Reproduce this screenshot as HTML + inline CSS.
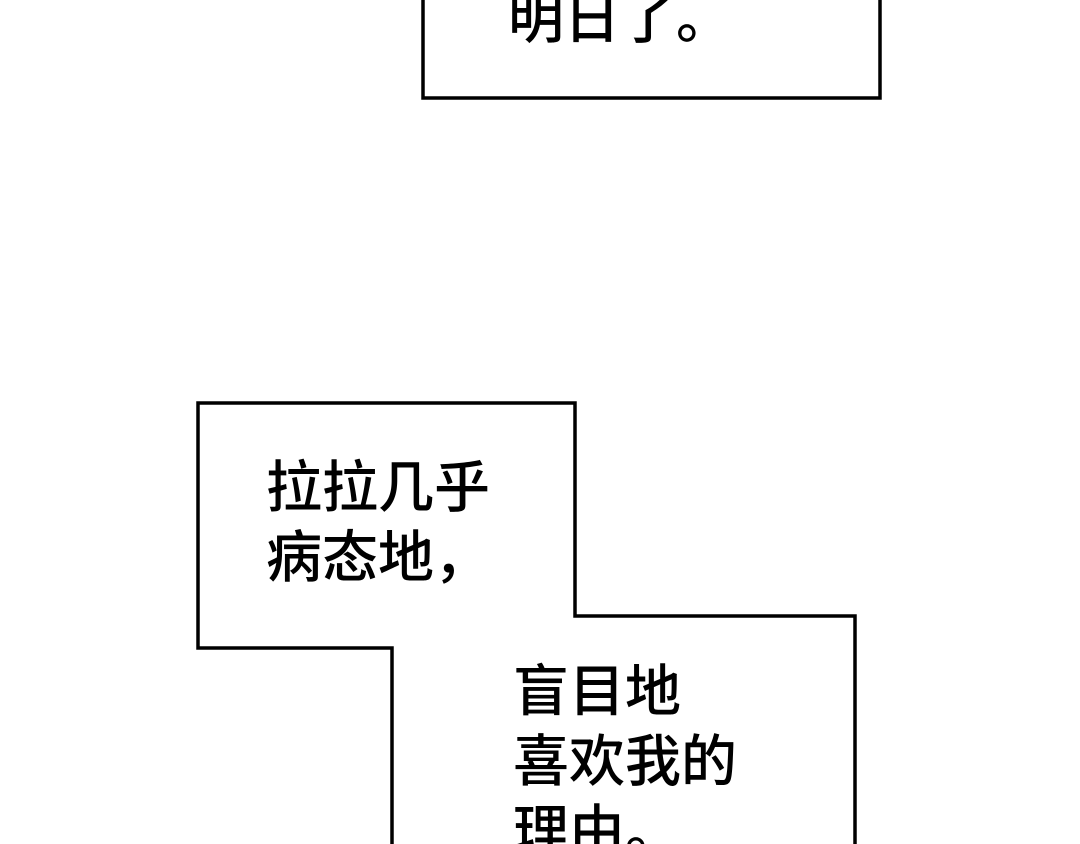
<!DOCTYPE html>
<html><head><meta charset="utf-8"><style>
html,body{margin:0;padding:0;background:#fff;width:1080px;height:844px;overflow:hidden;position:relative}
.t{position:absolute;font-family:"Liberation Sans","Noto Sans CJK SC",sans-serif;font-size:56px;font-weight:500;line-height:70px;color:#000;white-space:nowrap;letter-spacing:0}
</style></head><body>
<svg width="1080" height="844" style="position:absolute;left:0;top:0">
<rect x="423" y="-10" width="457" height="108" fill="#fff" stroke="#000" stroke-width="3.5"/>
<polygon points="198,403 575,403 575,616 855,616 855,860 392,860 392,648 198,648" fill="#fff" stroke="#000" stroke-width="3.5" stroke-linejoin="miter"/>
</svg>
<div class="t" style="left:508px;top:-16px">明日了。</div>
<div class="t" style="left:266px;top:453px">拉拉几乎<br>病态地，</div>
<div class="t" style="left:513px;top:657px">盲目地<br>喜欢我的<br>理由。</div>
</body></html>
